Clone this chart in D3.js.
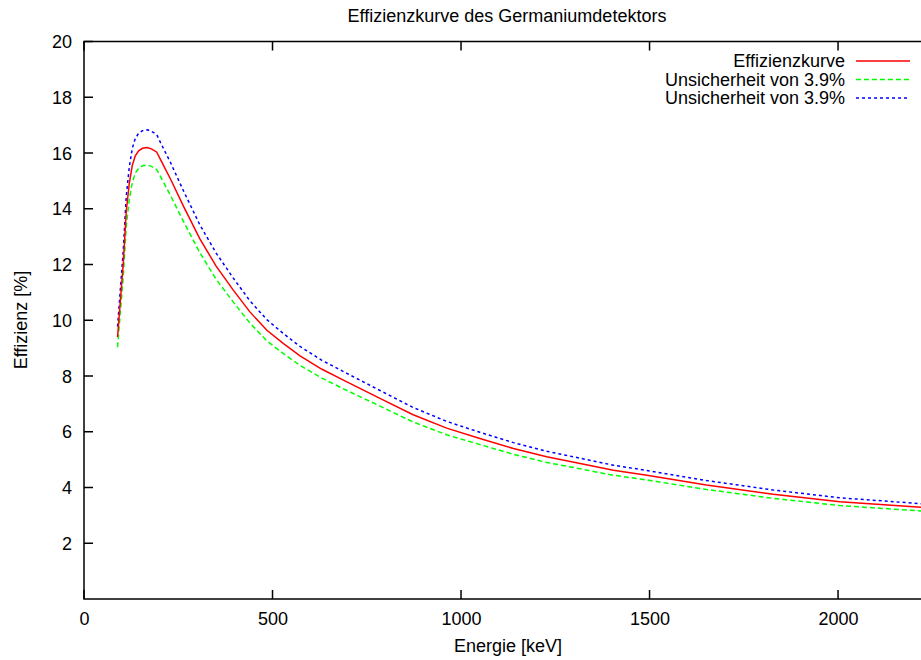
<!DOCTYPE html>
<html>
<head>
<meta charset="utf-8">
<script src="https://cdn.jsdelivr.net/npm/d3@7"></script>
<style>
  html, body { margin: 0; padding: 0; background: #fff; }
  svg { display: block; font-family: "Liberation Sans", Arial, Helvetica, sans-serif; }
</style>
</head>
<body>
<svg id="chart" width="921" height="660"></svg>
<script>
// Energy sample points [keV]
const energy = [89, 97, 104, 112, 120, 128, 136, 145, 155, 168, 180, 193, 203, 230, 265, 307, 350, 396, 440, 485, 530, 573, 630, 688, 785, 873, 962, 1050, 1139, 1227, 1316, 1404, 1493, 1651, 1828, 2005, 2220];

// Efficiency curve [%]
const efficiency = [9.40, 10.80, 12.00, 13.90, 14.90, 15.55, 15.90, 16.08, 16.17, 16.20, 16.14, 16.03, 15.76, 15.05, 14.06, 12.93, 11.95, 11.08, 10.30, 9.64, 9.15, 8.72, 8.25, 7.85, 7.20, 6.61, 6.13, 5.76, 5.40, 5.10, 4.86, 4.62, 4.44, 4.09, 3.76, 3.49, 3.29];

// Lower band (-3.9 %)
const lowerBand = [9.03, 10.38, 11.53, 13.36, 14.32, 14.94, 15.28, 15.45, 15.54, 15.57, 15.51, 15.40, 15.15, 14.46, 13.51, 12.43, 11.48, 10.65, 9.90, 9.26, 8.79, 8.38, 7.93, 7.54, 6.92, 6.35, 5.89, 5.54, 5.19, 4.90, 4.67, 4.44, 4.27, 3.93, 3.61, 3.35, 3.16];

// Upper band (+3.9 %)
const upperBand = [9.77, 11.22, 12.47, 14.44, 15.48, 16.16, 16.52, 16.71, 16.80, 16.83, 16.77, 16.66, 16.37, 15.64, 14.61, 13.43, 12.42, 11.51, 10.70, 10.02, 9.51, 9.06, 8.57, 8.16, 7.48, 6.87, 6.37, 5.98, 5.61, 5.30, 5.05, 4.80, 4.61, 4.25, 3.91, 3.63, 3.42];

const xTicks = [0, 500, 1000, 1500, 2000];
const yTicks = [2, 4, 6, 8, 10, 12, 14, 16, 18, 20];
const legendLabels = ["Effizienzkurve", "Unsicherheit von 3.9%", "Unsicherheit von 3.9%"];

const svg = d3.select("#chart");
const plotLeft = 84, plotRight = 921, plotTop = 41.5, plotBottom = 599;
const x = d3.scaleLinear().domain([0, 2220]).range([plotLeft, plotRight]);
const y = d3.scaleLinear().domain([0, 20]).range([plotBottom, plotTop]);

const fontSize = 18;

// Title
svg.append("text")
  .attr("x", 507).attr("y", 22)
  .attr("text-anchor", "middle")
  .attr("font-size", fontSize)
  .attr("fill", "#000")
  .text("Effizienzkurve des Germaniumdetektors");

// Axes
const bottomAxis = d3.axisBottom(x).tickValues(xTicks).tickSize(0).tickPadding(0).tickFormat(d3.format("d"));
const gx = svg.append("g").attr("transform", `translate(0,${plotBottom})`).call(bottomAxis);
gx.select(".domain").remove();
gx.selectAll("text").attr("font-size", fontSize).attr("fill", "#000").attr("dy", null).attr("y", 26);
gx.attr("font-family", null).attr("font-size", null);

const leftAxis = d3.axisLeft(y).tickValues(yTicks).tickSize(0).tickPadding(0).tickFormat(d3.format("d"));
const gy = svg.append("g").attr("transform", `translate(${plotLeft},0)`).call(leftAxis);
gy.select(".domain").remove();
gy.selectAll("text").attr("font-size", fontSize).attr("fill", "#000").attr("x", -12).attr("dy", "0.34em");
gy.attr("font-family", null).attr("font-size", null);

// Tick marks on all visible borders
const tickLen = 9;
const ticks = svg.append("g").attr("stroke", "#000").attr("stroke-width", 1.5);
xTicks.forEach(v => {
  ticks.append("line").attr("x1", x(v)).attr("x2", x(v)).attr("y1", plotBottom).attr("y2", plotBottom - tickLen);
  ticks.append("line").attr("x1", x(v)).attr("x2", x(v)).attr("y1", plotTop).attr("y2", plotTop + tickLen);
});
yTicks.forEach(v => {
  ticks.append("line").attr("x1", plotLeft).attr("x2", plotLeft + tickLen).attr("y1", y(v)).attr("y2", y(v));
});

// Frame
svg.append("path")
  .attr("d", `M${plotRight + 2},${plotTop} H${plotLeft} V${plotBottom} H${plotRight + 2}`)
  .attr("fill", "none").attr("stroke", "#000").attr("stroke-width", 1.5);

// Axis labels
svg.append("text")
  .attr("x", 508).attr("y", 652)
  .attr("text-anchor", "middle")
  .attr("font-size", fontSize)
  .text("Energie [keV]");

svg.append("text")
  .attr("transform", "translate(27,320) rotate(-90)")
  .attr("text-anchor", "middle")
  .attr("font-size", fontSize)
  .text("Effizienz [%]");

// Curves
const series = [
  { values: efficiency, color: "#ff0000", dash: null },
  { values: lowerBand, color: "#00ff00", dash: "5,3" },
  { values: upperBand, color: "#0000ff", dash: "3,3" }
];

const line = d3.line().x(d => x(d[0])).y(d => y(d[1]));

const plot = svg.append("g");
// bands first, main curve on top
[series[1], series[2], series[0]].forEach(s => {
  plot.append("path")
    .datum(energy.map((e, i) => [e, s.values[i]]))
    .attr("d", line)
    .attr("fill", "none")
    .attr("stroke", s.color)
    .attr("stroke-width", 1.5)
    .attr("stroke-dasharray", s.dash);
});

// Legend
const legendY = [61, 79.5, 98];
const legend = svg.append("g");
series.forEach((s, i) => {
  legend.append("text")
    .attr("x", 845).attr("y", legendY[i])
    .attr("dy", "0.35em")
    .attr("text-anchor", "end")
    .attr("font-size", fontSize)
    .text(legendLabels[i]);
  legend.append("line")
    .attr("x1", 856).attr("x2", 910)
    .attr("y1", legendY[i]).attr("y2", legendY[i])
    .attr("stroke", s.color)
    .attr("stroke-width", 1.5)
    .attr("stroke-dasharray", s.dash);
});
</script>
</body>
</html>
